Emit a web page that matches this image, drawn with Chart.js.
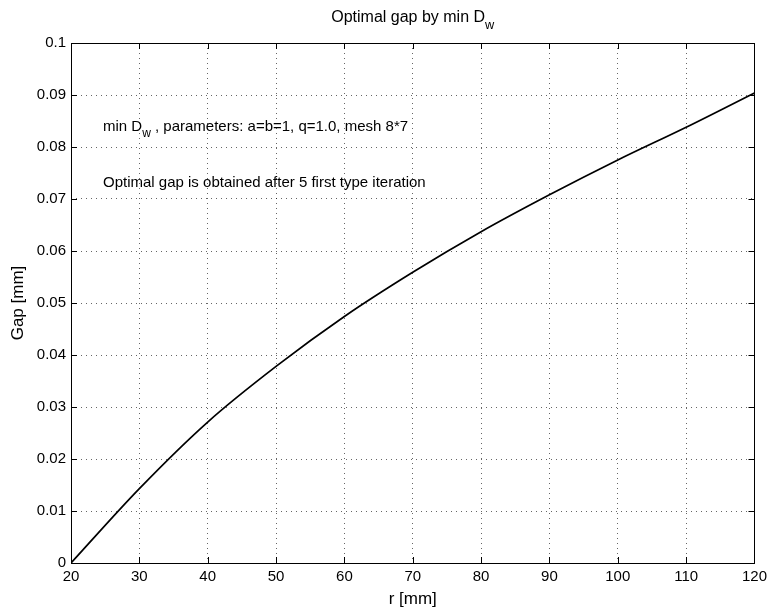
<!DOCTYPE html>
<html lang="en">
<head>
  <meta charset="UTF-8">
  <title>Optimal gap by min Dw</title>
  <script src="https://cdn.jsdelivr.net/npm/chart.js"></script>
  <style>
    body {
      margin: 0;
      padding: 0;
      background-color: #fff;
    }
    #chart-container {
      width: 772px;
      height: 610px;
    }
  </style>
</head>
<body>

<div id="chart-container">
  <canvas id="chart"></canvas>
</div>

<script>
  // data
  const radius = [20, 30, 40, 50, 60, 70, 80, 90, 100, 110, 120];
  const gap = [0, 0.0143, 0.0271, 0.0378, 0.0474, 0.0559, 0.0637, 0.0708, 0.0775, 0.0838, 0.0904];
  const xTicks = [20, 30, 40, 50, 60, 70, 80, 90, 100, 110, 120];
  const yTicks = [0, 0.01, 0.02, 0.03, 0.04, 0.05, 0.06, 0.07, 0.08, 0.09, 0.1];

  const FONT = "'Liberation Sans', Arial, sans-serif";

  // text with a subscript part
  function drawSub(ctx, x, y, parts, size, align) {
    let total = 0;
    parts.forEach(p => {
      ctx.font = (p.sub ? size * 0.8 : size) + 'px ' + FONT;
      total += ctx.measureText(p.t).width;
    });
    let cx = align === 'center' ? x - total / 2 : x;
    parts.forEach(p => {
      ctx.font = (p.sub ? size * 0.8 : size) + 'px ' + FONT;
      ctx.fillText(p.t, cx, p.sub ? y + size * 0.42 : y);
      cx += ctx.measureText(p.t).width;
    });
  }

  const matlabFrame = {
    id: 'matlabFrame',
    afterDatasetsDraw(chart) {
      const ctx = chart.ctx;
      const a = chart.chartArea;
      const xs = chart.scales.x, ys = chart.scales.y;
      ctx.save();
      ctx.strokeStyle = '#000';
      ctx.lineWidth = 1;
      ctx.beginPath();
      // inward ticks on all four sides
      xTicks.forEach(v => {
        const px = Math.round(xs.getPixelForValue(v)) + 0.5;
        ctx.moveTo(px, a.bottom); ctx.lineTo(px, a.bottom - 6);
        ctx.moveTo(px, a.top); ctx.lineTo(px, a.top + 6);
      });
      yTicks.forEach(v => {
        const py = Math.round(ys.getPixelForValue(v)) + 0.5;
        ctx.moveTo(a.left, py); ctx.lineTo(a.left + 6, py);
        ctx.moveTo(a.right, py); ctx.lineTo(a.right - 6, py);
      });
      ctx.stroke();
      ctx.strokeRect(Math.round(a.left) + 0.5, Math.round(a.top) + 0.5,
        Math.round(a.right - a.left), Math.round(a.bottom - a.top));

      ctx.fillStyle = '#000';
      ctx.textBaseline = 'alphabetic';
      // title
      drawSub(ctx, (a.left + a.right) / 2, 22, [{t: 'Optimal gap by min D'}, {t: 'w', sub: true}], 16, 'center');
      // annotations
      drawSub(ctx, 103, 131, [{t: 'min D'}, {t: 'w', sub: true}, {t: ' , parameters: a=b=1, q=1.0, mesh 8*7'}], 15, 'left');
      drawSub(ctx, 103, 187, [{t: 'Optimal gap is obtained after 5 first type iteration'}], 15, 'left');
      ctx.restore();
    }
  };

  new Chart(document.getElementById('chart'), {
    type: 'line',
    data: {
      datasets: [{
        data: radius.map((r, i) => ({x: r, y: gap[i]})),
        borderColor: '#000',
        borderWidth: 1.7,
        pointRadius: 0,
        cubicInterpolationMode: 'monotone',
        fill: false
      }]
    },
    options: {
      responsive: true,
      maintainAspectRatio: false,
      animation: false,
      layout: {
        padding: {left: 0, right: 13, top: 43, bottom: 0}
      },
      plugins: {
        legend: {display: false},
        tooltip: {enabled: false}
      },
      scales: {
        x: {
          type: 'linear',
          min: 20,
          max: 120,
          afterFit: s => { s.height = 47; },
          afterBuildTicks: s => { s.ticks = xTicks.map(v => ({value: v})); },
          border: {display: false, dash: [1, 4]},
          grid: {
            color: 'rgba(0,0,0,0.6)',
            lineWidth: 1,
            drawTicks: false
          },
          ticks: {
            color: '#000',
            padding: 5,
            maxRotation: 0,
            font: {family: FONT, size: 15}
          },
          title: {
            display: true,
            text: 'r [mm]',
            color: '#000',
            padding: {top: 4, bottom: 0},
            font: {family: FONT, size: 17}
          }
        },
        y: {
          min: 0,
          max: 0.1,
          afterFit: s => { s.width = 71; },
          afterBuildTicks: s => { s.ticks = yTicks.map(v => ({value: v})); },
          border: {display: false, dash: [1, 4]},
          grid: {
            color: 'rgba(0,0,0,0.6)',
            lineWidth: 1,
            drawTicks: false
          },
          ticks: {
            color: '#000',
            padding: 5,
            font: {family: FONT, size: 15},
            callback: v => String(+v.toFixed(2))
          },
          title: {
            display: true,
            text: 'Gap [mm]',
            color: '#000',
            padding: {top: 8, bottom: 0},
            font: {family: FONT, size: 17}
          }
        }
      }
    },
    plugins: [matlabFrame]
  });
</script>

</body>
</html>
